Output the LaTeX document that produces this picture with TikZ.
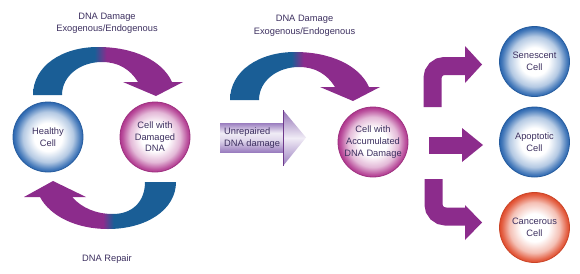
\documentclass[tikz,border=0pt]{standalone}
\usepackage{fontspec}
\setmainfont{Liberation Sans}
\definecolor{ablue}{HTML}{1A5E96}
\definecolor{apurple}{HTML}{8C2C8C}
\definecolor{cblue}{HTML}{2A66B0}
\definecolor{cpink}{HTML}{B0368E}
\definecolor{corange}{HTML}{E04B2B}
\definecolor{txt}{HTML}{3D3060}
\definecolor{lavd}{HTML}{9A7DBF}
\definecolor{lavl}{HTML}{F0ECF6}
\definecolor{lavline}{HTML}{6E3A8C}
\pgfdeclareradialshading{cellblue}{\pgfpoint{0bp}{0bp}}{color(0bp)=(white); color(10bp)=(white); color(18bp)=(cblue!35!white); color(23bp)=(cblue!85!white); color(25bp)=(cblue); color(50bp)=(cblue)}
\pgfdeclareradialshading{cellpink}{\pgfpoint{0bp}{0bp}}{color(0bp)=(white); color(10bp)=(white); color(18bp)=(cpink!35!white); color(23bp)=(cpink!85!white); color(25bp)=(cpink); color(50bp)=(cpink)}
\pgfdeclareradialshading{cellorange}{\pgfpoint{0bp}{0bp}}{color(0bp)=(white); color(10bp)=(white); color(18bp)=(corange!35!white); color(23bp)=(corange!85!white); color(25bp)=(corange); color(50bp)=(corange)}
\pgfdeclarehorizontalshading{arcbp}{100bp}{color(0bp)=(ablue); color(45.5bp)=(ablue); color(49.5bp)=(apurple); color(100bp)=(apurple)}
\pgfdeclarehorizontalshading{arcpb}{100bp}{color(0bp)=(apurple); color(51bp)=(apurple); color(54.5bp)=(ablue); color(100bp)=(ablue)}
\pgfdeclareverticalshading{lavbox}{100bp}{color(0bp)=(lavd); color(25bp)=(lavd); color(45bp)=(lavl!80!lavd); color(58bp)=(lavl); color(75bp)=(lavd); color(100bp)=(lavd)}
\pgfdeclareverticalshading{lavhead}{100bp}{color(0bp)=(lavd); color(25bp)=(lavd); color(50bp)=(lavl); color(75bp)=(lavd!80!lavline); color(100bp)=(lavd!80!lavline)}
\newcommand{\toparcpath}{(33,95) .. controls (33,66) and (62,47) .. (98,47)
  .. controls (133,47) and (162,60) .. (172,82)
  -- (183,82) -- (156,96) -- (123,82) -- (138,82)
  .. controls (130,69) and (118,62) .. (102,62)
  .. controls (80,62) and (62,76) .. (62,95) -- cycle}
\begin{document}
\begin{tikzpicture}[x=1pt,y=-1pt,
  every node/.style={font=\fontsize{9.3}{11.6}\selectfont, text=txt},
  cell/.style={circle, minimum size=70, inner sep=0, align=center, line width=0.8},
  bluecell/.style={cell, shading=cellblue, draw=cblue!90!black},
  pinkcell/.style={cell, shading=cellpink, draw=cpink!90!black},
  orangecell/.style={cell, shading=cellorange, draw=corange!90!black},
  label/.style={align=center, font=\fontsize{9.3}{12.5}\selectfont},
  bentarrow/.style={draw=apurple, line width=18, rounded corners=12}]
\useasboundingbox (0,0) rectangle (580,273);
\fill[white] (0,0) rectangle (580,273);
% left cycle
\shade[shading=arcbp] \toparcpath;
\shade[shading=arcpb] (176,182) .. controls (176,210) and (146,229) .. (108,229)
  .. controls (76,229) and (50,216) .. (40,197)
  -- (24,197) -- (53,181) -- (86,197) -- (72,197)
  .. controls (82,208) and (96,214) .. (113,214)
  .. controls (132,214) and (145,202) .. (145,182) -- cycle;
\node[label] (dmg1) at (107,23.3) {DNA Damage\\Exogenous/Endogenous};
\node[anchor=base] (repair) at (107,261.5) {DNA Repair};
\node[bluecell] (healthy) at (48,137) {Healthy\\Cell};
\node[pinkcell] (damaged) at (155,137) {Cell with\\Damaged\\DNA};
% middle
\begin{scope}[shift={(197,5)}]
\shade[shading=arcbp] \toparcpath;
\end{scope}
\node[label] (dmg2) at (304.5,26) {DNA Damage\\Exogenous/Endogenous};
\shade[shading=lavbox] (220,123) rectangle (283,152);
\shade[shading=lavhead] (283,110) -- (306,137.5) -- (283,166) -- cycle;
\draw[lavline, line width=1] (283,110) -- (283,166);
\node[anchor=west, align=left, inner sep=0] (unrep) at (224,138) {Unrepaired\\DNA damage};
\node[pinkcell] (accum) at (373,142) {Cell with\\Accumulated\\DNA Damage};
% right arrows
\draw[bentarrow] (432.5,107) -- (432.5,66) -- (466,66);
\fill[apurple] (465,46) -- (482,64.5) -- (465,83) -- cycle;
\fill[apurple] (429,137) rectangle (463,154);
\fill[apurple] (462,128) -- (483,145) -- (462,162) -- cycle;
\draw[bentarrow] (433.5,179) -- (433.5,216.5) -- (466,216.5);
\fill[apurple] (465,205) -- (482,222.5) -- (465,240) -- cycle;
% outcome cells
\node[bluecell] (senescent) at (534.5,61.5) {Senescent\\Cell};
\node[bluecell] (apoptotic) at (534.5,142) {Apoptotic\\Cell};
\node[orangecell] (cancerous) at (534.5,227.5) {Cancerous\\Cell};
\end{tikzpicture}
\end{document}
